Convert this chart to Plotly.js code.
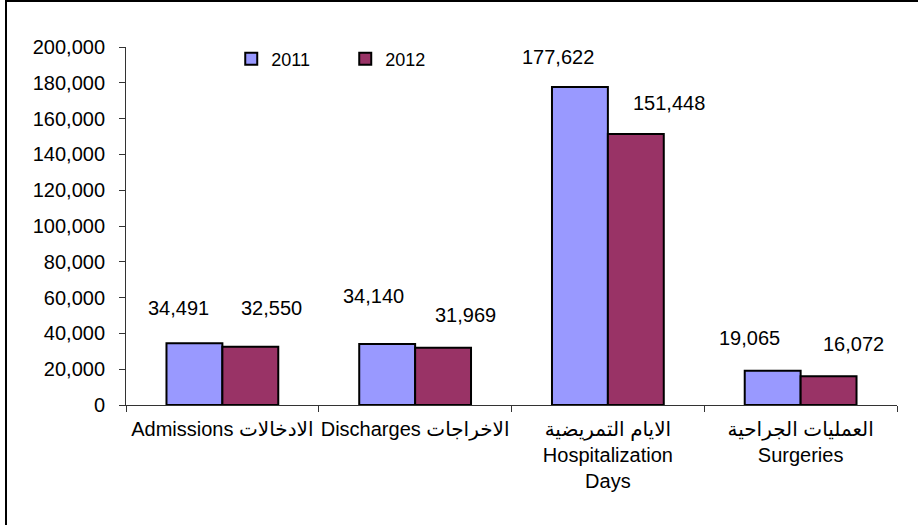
<!DOCTYPE html>
<html>
<head>
<meta charset="utf-8">
<script src="https://cdn.plot.ly/plotly-3.0.1.min.js"></script>
<style>
  html, body { margin: 0; padding: 0; background: #fff; overflow: hidden; }
  #frame { position: absolute; left: 5px; top: 0px; width: 2000px; height: 2000px;
           border-left: 2px solid #000; border-top: 2px solid #000; box-sizing: border-box; }
  #chart { position: absolute; left: 0; top: 0; width: 918px; height: 525px; }
</style>
</head>
<body>
<div id="frame"></div>
<div id="chart"></div>
<script>
// ---- data ----
const categories = [
  "Admissions الادخالات",
  "Discharges الاخراجات",
  "الايام التمريضية<br>Hospitalization<br>Days",
  "العمليات الجراحية<br>Surgeries"
];
const seriesNames = ["2011", "2012"];
const values2011 = [34491, 34140, 177622, 19065];
const values2012 = [32550, 31969, 151448, 16072];
const yTickVals = [0, 20000, 40000, 60000, 80000, 100000, 120000, 140000, 160000, 180000, 200000];

// ---- styling / layout ----
const FONT = "Liberation Sans, Arial, DejaVu Sans, sans-serif";
const colors = ["#9999FF", "#993366"];
// label offsets (pixels) relative to category centre / bar top
const labelShifts = [
  [[-44, 35], [49, 39]],
  [[-42, 48], [50, 33]],
  [[-50, 30], [61, 31]],
  [[-51, 33], [53, 32]]
];

const seriesValues = [values2011, values2012];
const traces = seriesValues.map((vals, i) => ({
  type: "bar",
  name: seriesNames[i],
  x: categories,
  y: vals,
  marker: { color: colors[i], line: { color: "#000", width: 2 } },
  hoverinfo: "skip"
}));

const annotations = [];
seriesValues.forEach((vals, s) => {
  vals.forEach((v, c) => {
    annotations.push({
      xref: "x", yref: "y",
      x: categories[c], y: v,
      text: v.toLocaleString("en-US"),
      showarrow: false,
      xanchor: "center", yanchor: "middle",
      xshift: labelShifts[c][s][0],
      yshift: labelShifts[c][s][1],
      font: { family: FONT, size: 20, color: "#000" }
    });
  });
});

const layout = {
  width: 918, height: 525,
  margin: { l: 126, r: 21, t: 47, b: 120 },
  paper_bgcolor: "rgba(0,0,0,0)",
  plot_bgcolor: "rgba(0,0,0,0)",
  font: { family: FONT, size: 20, color: "#000" },
  barmode: "group",
  bargap: 0.42,
  bargroupgap: 0,
  showlegend: true,
  legend: {
    orientation: "h",
    x: 0.1365, xanchor: "left",
    y: 0.966, yanchor: "middle",
    font: { family: FONT, size: 18, color: "#000" },
    bgcolor: "rgba(0,0,0,0)",
    entrywidth: 69,
    entrywidthmode: "pixels",
    itemclick: false
  },
  xaxis: {
    type: "category",
    showline: true, linecolor: "#333", linewidth: 1,
    ticks: "outside", tickson: "boundaries", ticklen: 6, tickcolor: "#333",
    tickangle: 0,
    ticklabelstandoff: 6,
    showgrid: false, zeroline: false,
    tickfont: { family: FONT, size: 20, color: "#000" },
    fixedrange: true
  },
  yaxis: {
    range: [0, 200000],
    tickvals: yTickVals,
    ticktext: yTickVals.map(v => v.toLocaleString("en-US")),
    showline: true, linecolor: "#333", linewidth: 1,
    ticks: "outside", ticklen: 6, tickcolor: "#333",
    ticklabelstandoff: 10,
    showgrid: false, zeroline: false,
    tickfont: { family: FONT, size: 20, color: "#000" },
    fixedrange: true
  },
  annotations: annotations
};

Plotly.newPlot("chart", traces, layout, { displayModeBar: false, staticPlot: true });
</script>
</body>
</html>
